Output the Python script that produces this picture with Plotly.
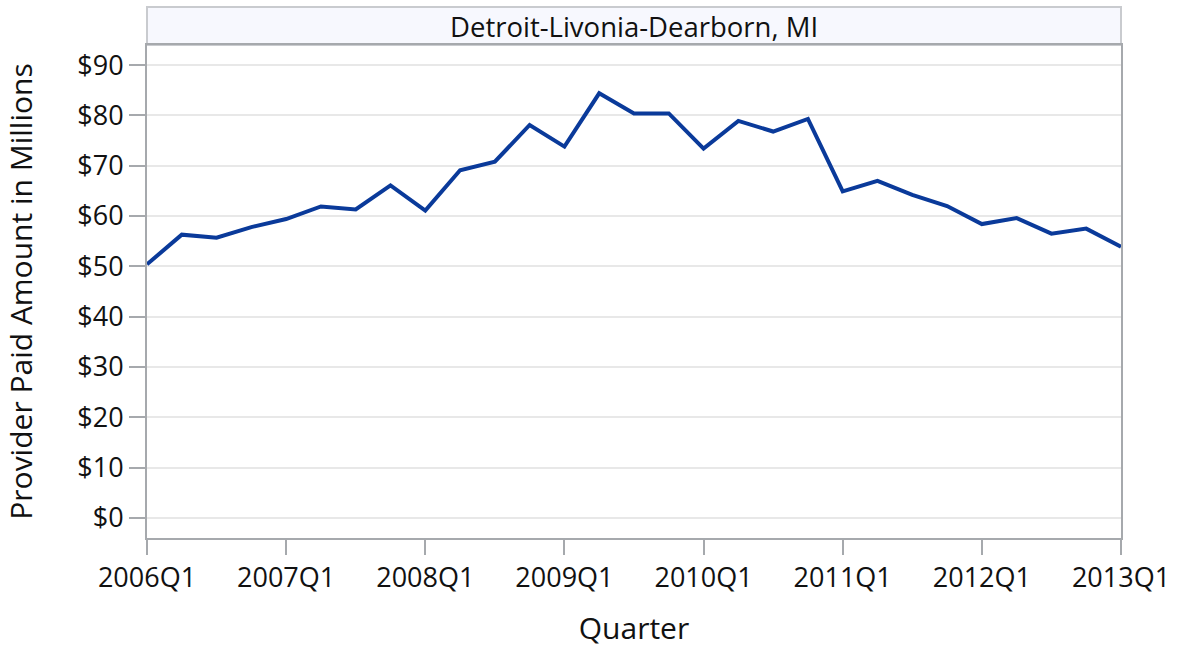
import plotly.graph_objects as go

quarters = [f"{y}Q{q}" for y in range(2006, 2013) for q in range(1, 5)] + ["2013Q1"]
paid_millions = [50.4, 56.3, 55.7, 57.8, 59.4, 61.9, 61.3, 66.1, 61.1, 69.1,
                 70.8, 78.1, 73.8, 84.4, 80.4, 80.4, 73.4, 78.9, 76.8, 79.3,
                 64.9, 67.0, 64.2, 62.0, 58.4, 59.6, 56.5, 57.5, 53.9]
tick_labels = ["2006Q1", "2007Q1", "2008Q1", "2009Q1", "2010Q1", "2011Q1", "2012Q1", "2013Q1"]
y_ticks = [0, 10, 20, 30, 40, 50, 60, 70, 80, 90]
y_tick_text = [f"${v}" for v in y_ticks]
panel_title = "Detroit-Livonia-Dearborn, MI"

FONT = "Open Sans"
AX = "#A6A9AD"
TXT = "#111111"

fig = go.Figure()
fig.add_trace(go.Scatter(
    x=quarters, y=paid_millions, mode="lines",
    line=dict(color="#0A3A9A", width=4),
    hoverinfo="x+y", showlegend=False,
))

fig.update_layout(
    width=1180, height=648,
    margin=dict(l=147, r=59, t=45, b=110),
    paper_bgcolor="white", plot_bgcolor="white",
    font=dict(family=FONT, color=TXT, size=26),
    xaxis=dict(
        type="category", range=[0, len(quarters) - 1], automargin=False,
        tickmode="array", tickvals=tick_labels, ticktext=tick_labels,
        ticks="outside", ticklen=15, tickwidth=2, tickcolor=AX,
        showline=True, linecolor=AX, linewidth=2, mirror=True,
        showgrid=False, zeroline=False,
        tickfont=dict(family=FONT, size=27, color=TXT),
        title=dict(text="Quarter", font=dict(family=FONT, size=30, color=TXT), standoff=34),
    ),
    yaxis=dict(
        range=[-4, 94], automargin=False,
        tickmode="array", tickvals=y_ticks, ticktext=y_tick_text,
        ticks="outside", ticklen=16, tickwidth=2, tickcolor=AX,
        showline=True, linecolor=AX, linewidth=2, mirror=True,
        showgrid=True, gridcolor="#E8E8E8", gridwidth=2, zeroline=False,
        tickfont=dict(family=FONT, size=27, color=TXT),
        title=dict(text="Provider Paid Amount in Millions", font=dict(family=FONT, size=30, color=TXT), standoff=42),
    ),
)

# panel header strip
fig.add_shape(type="rect", xref="paper", yref="paper",
              x0=0, x1=1, y0=1.0, y1=1 + 38 / 493,
              fillcolor="#F7F8FE", line=dict(color="#C9CBCF", width=2), layer="below")
fig.add_annotation(text=panel_title, xref="paper", yref="paper",
                   x=0.5, y=1 + 19 / 493, showarrow=False,
                   font=dict(family=FONT, size=27.5, color=TXT),
                   xanchor="center", yanchor="middle")

fig.write_html("out.html", config={"displayModeBar": False},
               post_script="document.body.style.margin='0px';")
